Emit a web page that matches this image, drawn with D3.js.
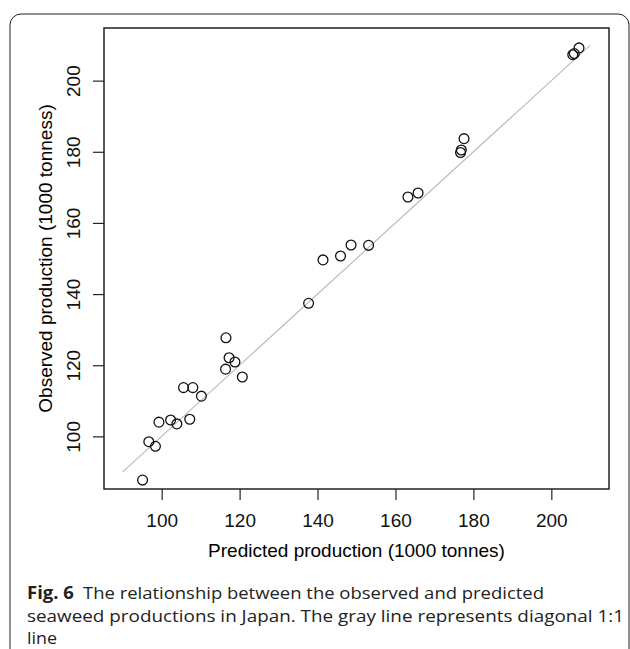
<!DOCTYPE html>
<html>
<head>
<meta charset="utf-8">
<script src="https://cdn.jsdelivr.net/npm/d3@7"></script>
<style>
  body { margin: 0; background: white; }
  svg { display: block; }
  .axis text { font-family: "Liberation Sans", Arial, sans-serif; font-size: 19px; fill: #111; }
  .caption { font-family: "Open Sans", "Noto Sans", sans-serif; font-size: 17px; fill: #222; }
</style>
</head>
<body>
<svg id="chart" width="630" height="649"></svg>
<script>
// predicted vs observed seaweed production (1000 tonnes)
const predicted = [95.1, 96.7, 98.4, 99.3, 102.3, 103.9, 105.6, 107.2, 108.0, 110.2,
  116.5, 116.4, 117.3, 118.8, 120.7, 137.7, 141.4, 145.9, 148.6, 153.1,
  163.2, 165.8, 176.7, 176.9, 177.6, 205.5, 205.9, 207.1];
const observed = [87.7, 98.5, 97.2, 104.0, 104.6, 103.5, 113.7, 104.8, 113.7, 111.3,
  127.7, 118.9, 122.1, 120.9, 116.7, 137.4, 149.6, 150.7, 153.8, 153.7,
  167.3, 168.4, 179.8, 180.5, 183.7, 207.3, 207.6, 209.2];
const xTicks = [100, 120, 140, 160, 180, 200];
const yTicks = [100, 120, 140, 160, 180, 200];
const diagonal = [90, 210];

const svg = d3.select("#chart");

// card frame around the figure
svg.append("rect")
  .attr("x", 10).attr("y", 14)
  .attr("width", 619).attr("height", 680)
  .attr("rx", 11)
  .attr("fill", "none")
  .attr("stroke", "#222")
  .attr("stroke-width", 1);

const plotL = 104, plotR = 609, plotT = 28, plotB = 489;

// R style limits: 4% padding around 90..210
const pad = (diagonal[1] - diagonal[0]) * 0.04;
const xScale = d3.scaleLinear().domain([diagonal[0] - pad, diagonal[1] + pad]).range([plotL, plotR]);
const yScale = d3.scaleLinear().domain([diagonal[0] - pad, diagonal[1] + pad]).range([plotB, plotT]);

const xAxis = d3.axisBottom(xScale).tickValues(xTicks).tickSize(11).tickPadding(4);
const yAxis = d3.axisLeft(yScale).tickValues(yTicks).tickSize(11).tickPadding(4);

const gx = svg.append("g")
  .attr("class", "axis")
  .attr("transform", `translate(0,${plotB})`)
  .call(xAxis);
gx.select(".domain").remove();
gx.selectAll("line").attr("stroke", "#222").attr("stroke-width", 1.2);
gx.selectAll("text").attr("y", 38).attr("dy", null);

const gy = svg.append("g")
  .attr("class", "axis")
  .attr("transform", `translate(${plotL},0)`)
  .call(yAxis);
gy.select(".domain").remove();
gy.selectAll("line").attr("stroke", "#222").attr("stroke-width", 1.2);
gy.selectAll("text")
  .attr("x", null).attr("dy", null)
  .attr("text-anchor", "middle")
  .attr("transform", "translate(-24,0) rotate(-90)");

// 1:1 line
svg.append("line")
  .attr("x1", xScale(diagonal[0])).attr("y1", yScale(diagonal[0]))
  .attr("x2", xScale(diagonal[1])).attr("y2", yScale(diagonal[1]))
  .attr("stroke", "#bbb")
  .attr("stroke-width", 1.2);

svg.selectAll(".pt")
  .data(predicted)
  .join("circle")
  .attr("class", "pt")
  .attr("cx", (d) => xScale(d))
  .attr("cy", (d, i) => yScale(observed[i]))
  .attr("r", 4.9)
  .attr("fill", "none")
  .attr("stroke", "#111")
  .attr("stroke-width", 1.3);

// plot box
svg.append("rect")
  .attr("x", plotL).attr("y", plotT)
  .attr("width", plotR - plotL).attr("height", plotB - plotT)
  .attr("fill", "none")
  .attr("stroke", "#222")
  .attr("stroke-width", 1.5);

svg.append("text")
  .attr("x", (plotL + plotR) / 2).attr("y", 557)
  .attr("text-anchor", "middle")
  .style("font-family", "'Liberation Sans', Arial, sans-serif")
  .style("font-size", "19px")
  .text("Predicted production (1000 tonnes)");

svg.append("text")
  .attr("transform", `translate(52,${(plotT + plotB) / 2}) rotate(-90)`)
  .attr("text-anchor", "middle")
  .style("font-family", "'Liberation Sans', Arial, sans-serif")
  .style("font-size", "19px")
  .text("Observed production (1000 tonness)");

// caption
const cap1 = svg.append("text").attr("class", "caption")
  .attr("x", 27).attr("y", 599)
  .attr("textLength", 517).attr("lengthAdjust", "spacingAndGlyphs");
cap1.append("tspan").attr("font-weight", "bold").text("Fig. 6");
cap1.append("tspan").text("\u2002The relationship between the observed and predicted");

svg.append("text").attr("class", "caption")
  .attr("x", 27).attr("y", 622)
  .attr("textLength", 597).attr("lengthAdjust", "spacingAndGlyphs")
  .text("seaweed productions in Japan. The gray line represents diagonal 1:1");

svg.append("text").attr("class", "caption")
  .attr("x", 27).attr("y", 644)
  .attr("textLength", 30).attr("lengthAdjust", "spacingAndGlyphs")
  .text("line");
</script>
</body>
</html>
